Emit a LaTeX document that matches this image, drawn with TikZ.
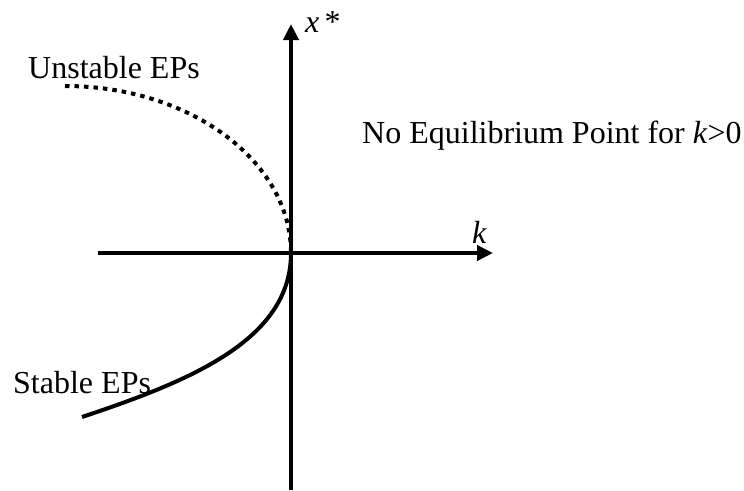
\documentclass[tikz,border=0pt]{standalone}
\usepackage{fontspec}
\setmainfont{Liberation Serif}
\usetikzlibrary{arrows.meta}
\begin{document}
\begin{tikzpicture}[x=1pt,y=-1pt,
  axis/.style={line width=4pt,-{Triangle[length=16pt,width=15pt]}},
  curve/.style={line width=4pt},
  dotcurve/.style={line width=4pt,dash pattern=on 4.5pt off 5pt},
  lbl/.style={anchor=base west,inner sep=0pt,font=\fontsize{32}{38}\selectfont}]
\useasboundingbox (0,0) rectangle (744,490);
\coordinate (O) at (291,253);
\coordinate (xb) at (291,490);
\coordinate (xt) at (291,24);
\coordinate (kl) at (98,253);
\coordinate (kr) at (493,253);
\coordinate (us) at (65,86);
\coordinate (se) at (82,417);
\draw[axis] (xb) -- (xt);
\draw[axis] (kl) -- (kr);
\draw[dotcurve] (us) .. controls (189.3,86) and (291,160.8) .. (O);
\draw[curve] (O) .. controls (291,340) and (190,381) .. (se);
\node[lbl] (xs) at (305,32) {\textit{x}\,*};
\node[lbl] (k) at (472,243) {\textit{k}};
\node[lbl] (un) at (28,78) {Unstable EPs};
\node[lbl] (st) at (13,393) {Stable EPs};
\node[lbl] (no) at (362,143) {No Equilibrium Point for \textit{k}>0};
\end{tikzpicture}
\end{document}
